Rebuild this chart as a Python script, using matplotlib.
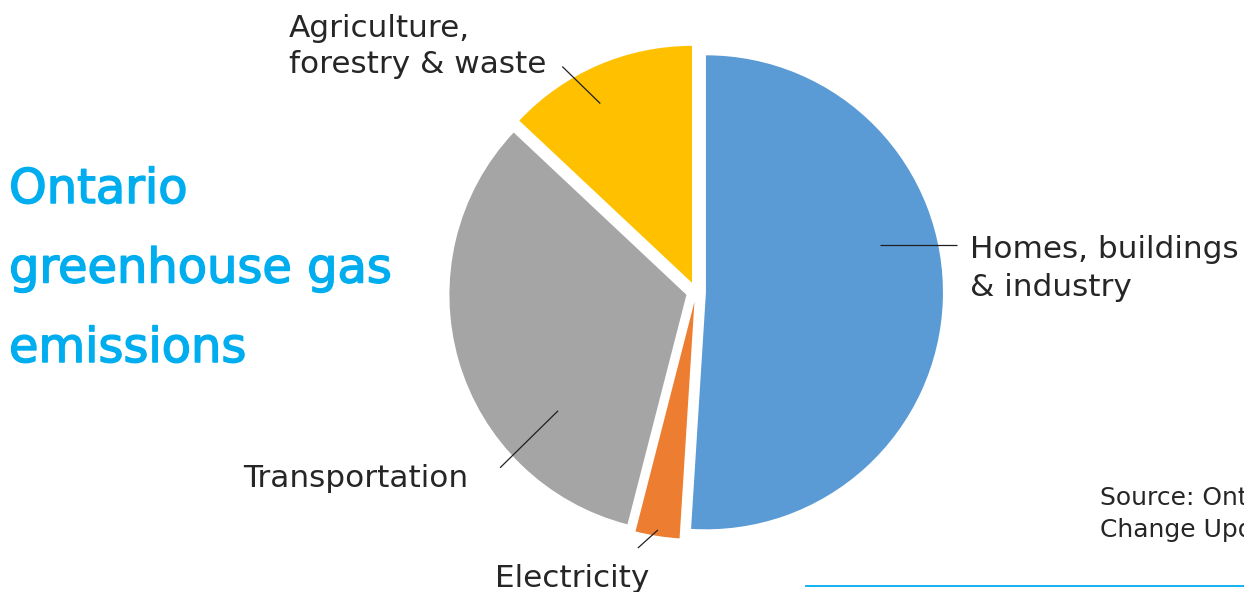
import matplotlib.pyplot as plt
import matplotlib.patheffects as pe
import numpy as np

# data
categories = ["Homes, buildings\n& industry", "Electricity", "Transportation",
              "Agriculture,\nforestry & waste"]
shares = [51, 3, 33, 13]
slice_colors = ["#5B9BD5", "#ED7D31", "#A5A5A5", "#FFC000"]

title_lines = ["Ontario", "greenhouse gas", "emissions"]
source_lines = ["Source: Ontario's Climate", "Change Update 2014"]

# label layout (pixels, y from top): anchor angle/radius in wedge, leader offset, text x, first baseline, line step
label_layout = [
    (15.2, 0.76, (77, 0), 970, 258, 38),
    (260.9, 0.975, (-20, 18), 495, 587, 36),
    (222.1, 0.73, (-58, 57), 243, 487, 36),
    (117.1, 0.85, (-38, -37), 289, 37, 36),
]

W, H = 1244, 592
text_col = "#262626"
blue_title = "#00AEEF"

fig = plt.figure(figsize=(W / 100, H / 100), dpi=100)

# pie axes: centre at (696, 292) px from top, radius 237 px
R = 237
cx, cy = 696, H - 292
side = 2.5 * R
axp = fig.add_axes([(cx - side / 2) / W, (cy - side / 2) / H, side / W, side / H])
wedges, _ = axp.pie(shares, colors=slice_colors, startangle=90, counterclock=False,
                    explode=[0.042] * len(shares), radius=1,
                    wedgeprops=dict(linewidth=0))
axp.set_xlim(-1.25, 1.25)
axp.set_ylim(-1.25, 1.25)
axp.set_aspect("equal")
axp.axis("off")

# overlay axes in pixel coordinates (y down)
ov = fig.add_axes([0, 0, 1, 1])
ov.set_xlim(0, W)
ov.set_ylim(H, 0)
ov.axis("off")
ov.patch.set_visible(False)

for w, label, (ang, fr, off, tx, ty, step) in zip(wedges, categories, label_layout):
    x0, y0 = w.center
    a = np.deg2rad(ang)
    pt = (x0 + w.r * fr * np.cos(a), y0 + w.r * fr * np.sin(a))
    disp = axp.transData.transform(pt)
    px, py = ov.transData.inverted().transform(disp)
    ov.plot([px, px + off[0]], [py, py + off[1]], color="#231F20", lw=0.9,
            solid_capstyle="butt")
    for i, line in enumerate(label.split("\n")):
        ov.text(tx, ty + i * step, line, fontsize=22.4, color=text_col,
                ha="left", va="baseline", family="DejaVu Sans")

# title
for i, line in enumerate(title_lines):
    ov.text(9, 203 + i * 79.5, line, fontsize=34.5, color=blue_title, ha="left",
            va="baseline", family="DejaVu Sans",
            path_effects=[pe.withStroke(linewidth=1.1, foreground=blue_title)])

# source
for i, line in enumerate(source_lines):
    ov.text(1100, 505 + i * 32, line, fontsize=18, color=text_col,
            ha="left", va="baseline", family="DejaVu Sans")

ov.plot([806, W], [586, 586], color=blue_title, lw=1.3)

fig.savefig("out.png", dpi=100)
